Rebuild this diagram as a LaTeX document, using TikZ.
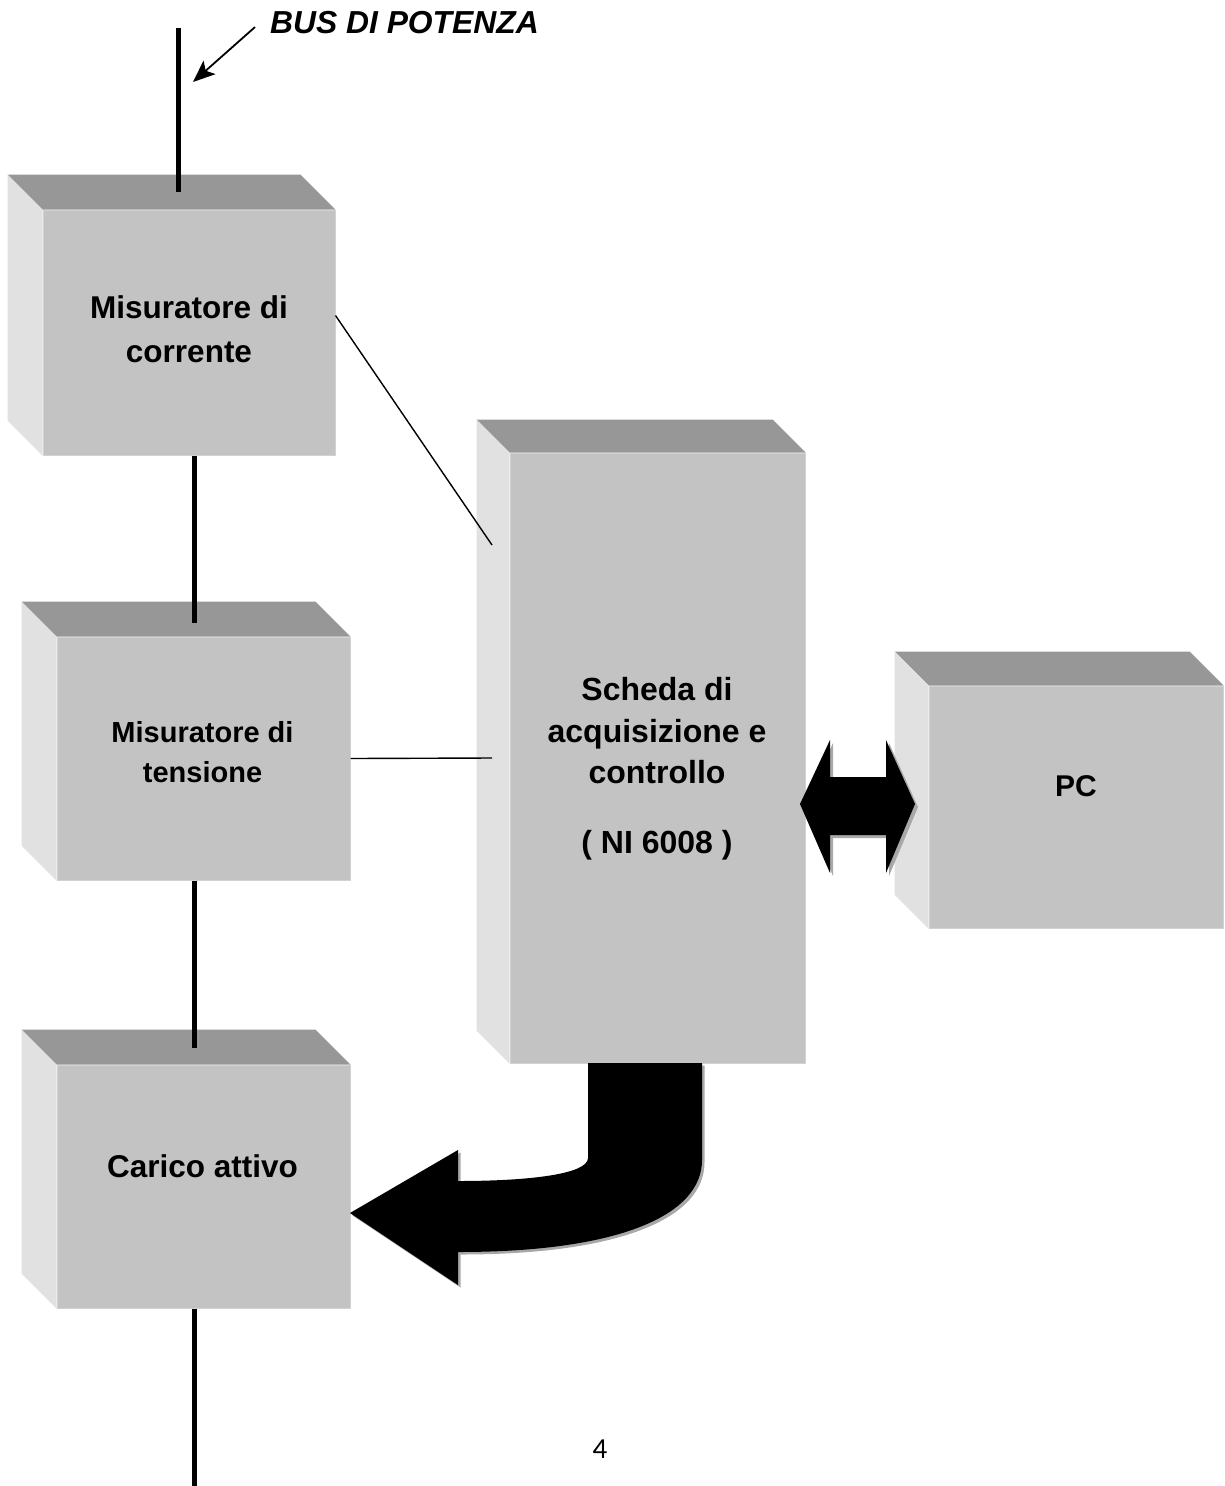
\documentclass[tikz,border=0pt]{standalone}
\usepackage{fontspec}
\setmainfont{Liberation Sans}
\newfontfamily\pagefont{Carlito}
\usetikzlibrary{calc,arrows.meta}
\definecolor{frontc}{HTML}{C3C3C3}
\definecolor{frontedge}{HTML}{D2D2D2}
\definecolor{topc}{HTML}{979797}
\definecolor{sidec}{HTML}{E1E1E1}
\definecolor{shadowc}{HTML}{A8A8A8}
\newcommand\cubesides[2]{%
  \fill[topc] (#1.north west) -- ++(-#2,-#2) -- ($(#1.north east)+(-#2,-#2)$) -- (#1.north east) -- cycle;
  \fill[sidec] (#1.north west) -- ++(-#2,-#2) -- ($(#1.south west)+(-#2,-#2)$) -- (#1.south west) -- cycle;}
\begin{document}
\begin{tikzpicture}[x=1pt,y=-1pt,
  face/.style={rectangle, fill=frontc, draw=frontedge, line width=1pt, inner sep=0pt},
  lbl/.style={anchor=base, inner sep=0pt, font=\bfseries\fontsize{#1}{#1}\selectfont},
  bus/.style={line width=5pt},
  wire/.style={line width=1.4pt},
  bigarrow/.style={fill=black},
  arrowshadow/.style={fill=shadowc},
]
\useasboundingbox (0,0) rectangle (1225,1486);

% boxes (front faces)
\node[face, minimum width=292pt, minimum height=245pt] (b1) at (189,332.5) {};
\node[face, minimum width=293pt, minimum height=243pt] (b2) at (203.5,758.5) {};
\node[face, minimum width=293pt, minimum height=243pt] (b3) at (203.5,1186.5) {};
\node[face, minimum width=295pt, minimum height=610pt] (sc) at (657.5,758) {};
\node[face, minimum width=294pt, minimum height=242pt] (pc) at (1076,807) {};
\cubesides{b1}{35}
\cubesides{b2}{35}
\cubesides{b3}{35}
\cubesides{sc}{33}
\cubesides{pc}{34}

% labels
\node[lbl=31.5] (t1a) at (189,318) {Misuratore di};
\node[lbl=31.5] (t1b) at (189,362) {corrente};
\node[lbl=29] (t2a) at (202.5,742) {Misuratore di};
\node[lbl=29] (t2b) at (202.5,782) {tensione};
\node[lbl=31.5] (t3) at (202.5,1177) {Carico attivo};
\node[lbl=32] (ts1) at (657,700) {Scheda di};
\node[lbl=32] (ts2) at (657,742) {acquisizione e};
\node[lbl=32] (ts3) at (657,783) {controllo};
\node[lbl=32] (ts4) at (657,853) {( NI 6008 )};
\node[lbl=30] (tpc) at (1076,796) {PC};
\node[anchor=base west, inner sep=0pt, font=\bfseries\itshape\fontsize{31.8}{32}\selectfont] (busl) at (270,33) {BUS DI POTENZA};
\node[anchor=base, inner sep=0pt, font=\pagefont\fontsize{29}{29}\selectfont] (pg) at (600,1458) {4};

% power bus
\coordinate (busTop) at (178,28);
\coordinate (busIn1) at (178,192);
\coordinate (j12) at (194,623);
\coordinate (j23) at (194,1048);
\coordinate (busBot) at (194,1486);
\draw[bus] (busTop) -- (busIn1);
\draw[bus] (j12 |- b1.south) -- (j12);
\draw[bus] (j23 |- b2.south) -- (j23);
\draw[bus] (busBot |- b3.south) -- (busBot);

% bus label arrow
\coordinate (busTip) at (193,82);
\draw[line width=1.8pt, -{Stealth[length=22pt,width=18pt,inset=5pt]}] ([xshift=-15pt,yshift=-5pt]busl.west) -- (busTip);

% signal wires
\coordinate (s1) at (492,545);
\coordinate (s2) at (492,758);
\draw[wire] ([yshift=17pt]b1.east) -- (s1);
\draw[wire] (b2.east) -- (s2);

% double arrow between board and PC
\foreach \d/\st in {3/arrowshadow, 0/bigarrow}{
  \path[\st, shift={(\d,\d)}] (800,804) -- (830,740) -- (830,777) -- (886,777) -- (886,740)
    -- (915,804) -- (886,873) -- (886,835) -- (830,835) -- (830,873) -- cycle;
}

% curved arrow from board to active load
\foreach \d/\st in {2.5/arrowshadow, 0/bigarrow}{
  \path[\st, shift={(\d,\d)}] (588,1063) -- (588,1158)
    .. controls (588,1174) and (530,1181) .. (458,1181)
    -- (458,1150) -- (350,1213) -- (458,1285) -- (458,1252)
    .. controls (620,1252) and (702,1215) .. (702,1160)
    -- (702,1063) -- cycle;
}
\end{tikzpicture}
\end{document}
